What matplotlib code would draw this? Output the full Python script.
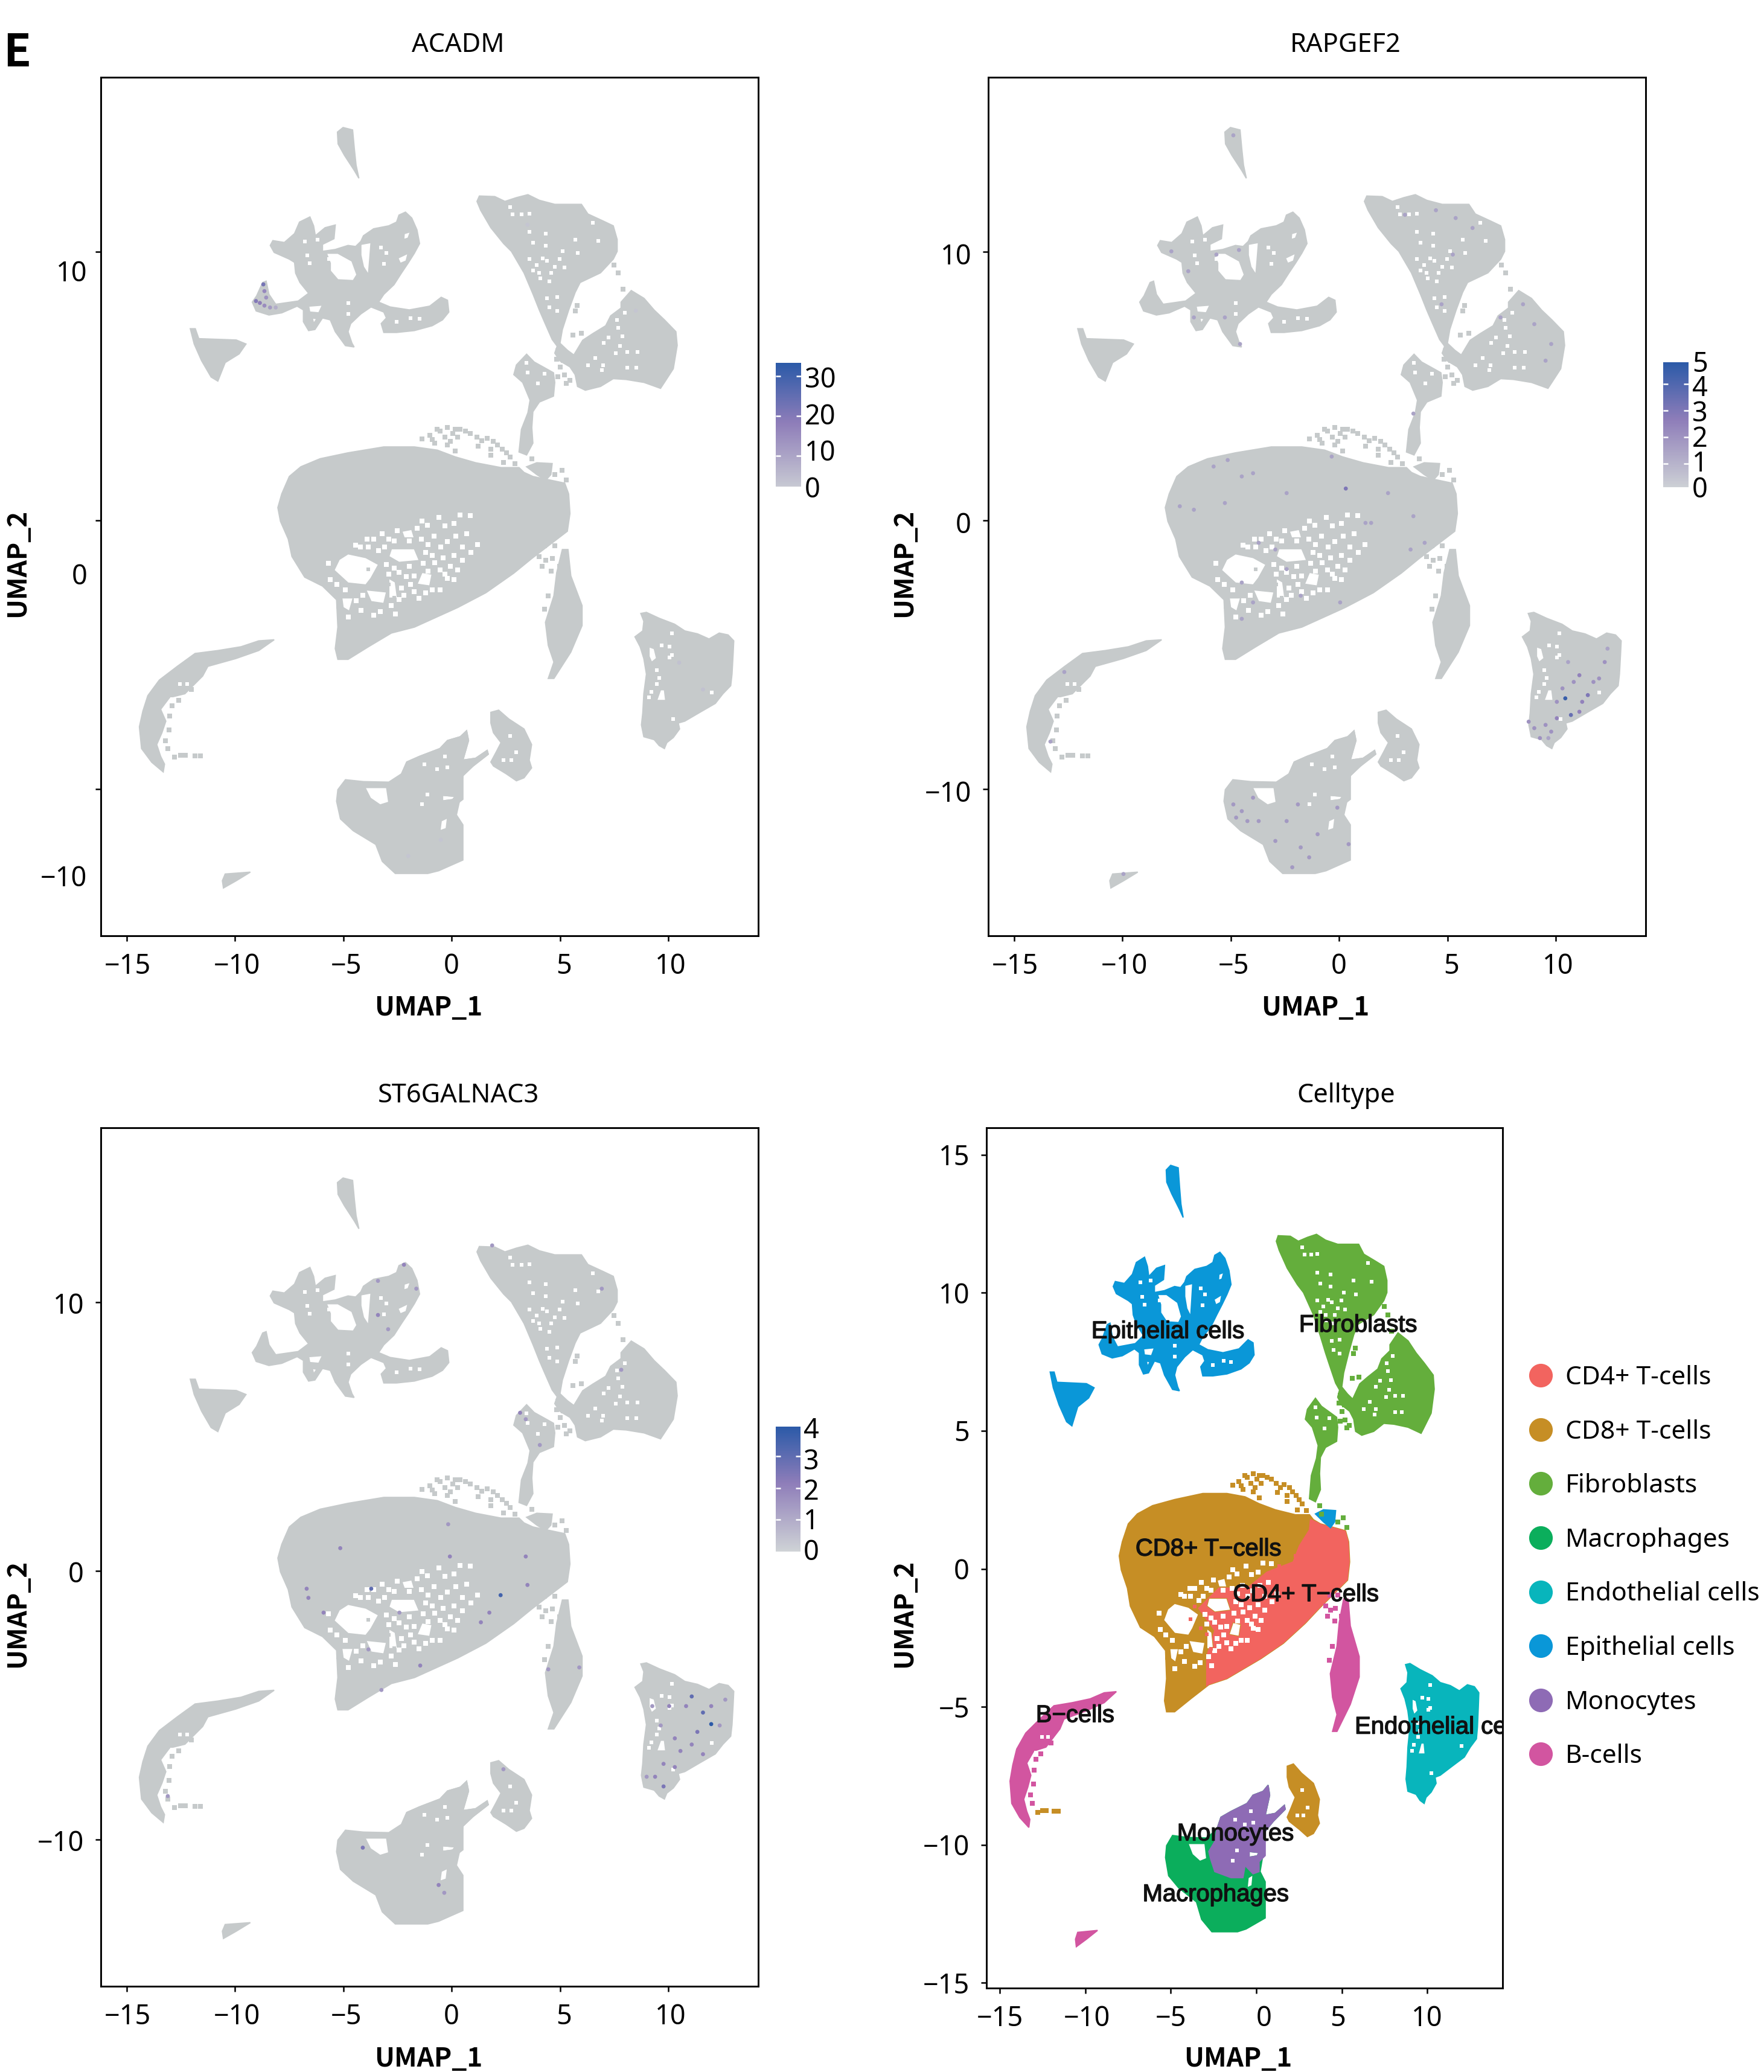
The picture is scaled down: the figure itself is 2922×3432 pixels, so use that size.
import matplotlib
matplotlib.use("Agg")
import matplotlib.pyplot as plt
import matplotlib.patheffects as pe
import numpy as np
from matplotlib.colors import LinearSegmentedColormap, Normalize
from matplotlib.cm import ScalarMappable
from matplotlib.lines import Line2D
from matplotlib.path import Path
from matplotlib.patches import PathPatch
from matplotlib.transforms import ScaledTranslation

FIG_W, FIG_H = 2922, 3432

CELLTYPES = ["CD4+ T-cells", "CD8+ T-cells", "Fibroblasts", "Macrophages",
             "Endothelial cells", "Epithelial cells", "Monocytes", "B-cells"]
CELL_COLORS = ["#F2645F", "#C68E25", "#64AE3C", "#0BAE5C",
               "#08B5BC", "#0A97D8", "#8E6BB5", "#D255A0"]
GREY = "#C6CACB"

# cluster outlines in UMAP coordinates
epi_drop = [(-5.27, 14.45), (-5.01, 14.62), (-4.57, 14.53), (-4.49, 13.83), (-4.41, 13.22),
            (-4.28, 12.73), (-4.49, 13.02), (-4.95, 13.59), (-5.24, 14.01)]
epi_main = [(-8.37, 10.23), (-8.25, 10.41), (-7.72, 10.34), (-7.25, 10.67), (-7.02, 11.10),
            (-6.54, 11.29), (-6.37, 10.96), (-6.29, 10.59), (-5.84, 10.89), (-5.37, 10.99),
            (-5.43, 10.48), (-5.96, 10.27), (-5.96, 10.01), (-5.37, 10.08), (-4.78, 10.23),
            (-4.43, 10.19), (-4.19, 10.38), (-4.07, 10.59), (-3.60, 10.85), (-2.90, 10.96),
            (-2.54, 11.10), (-2.43, 11.36), (-2.13, 11.47), (-1.84, 11.25), (-1.60, 10.81),
            (-1.48, 10.30), (-1.72, 9.94), (-2.01, 9.57), (-2.31, 9.21), (-2.66, 8.77),
            (-3.13, 8.41), (-3.37, 8.12), (-2.84, 7.94), (-1.95, 7.83), (-1.01, 7.97),
            (-0.48, 8.30), (-0.19, 8.19), (-0.13, 7.75), (-0.42, 7.46), (-0.90, 7.24),
            (-1.72, 7.06), (-2.54, 6.99), (-3.13, 6.99), (-3.25, 7.32), (-3.01, 7.53),
            (-3.13, 7.75), (-3.72, 7.94), (-4.19, 7.68), (-4.66, 7.32), (-4.78, 7.02),
            (-4.60, 6.59), (-4.50, 6.45), (-4.90, 6.50), (-5.37, 7.02), (-5.60, 7.46),
            (-5.96, 7.53), (-6.31, 7.10), (-6.60, 7.06), (-6.84, 7.39), (-6.84, 7.83),
            (-7.13, 7.97), (-7.84, 7.72), (-8.43, 7.64), (-9.02, 7.79), (-9.20, 8.12),
            (-9.00, 8.35), (-8.72, 8.85), (-8.56, 8.90), (-8.43, 8.41), (-8.12, 8.04),
            (-7.08, 8.16), (-6.60, 8.45), (-7.00, 8.85), (-7.20, 9.20), (-7.25, 9.60),
            (-7.49, 9.72), (-8.19, 9.97)]
epi_main_holes = [
    [(-5.78, 9.94), (-5.25, 9.94), (-4.60, 9.65), (-4.37, 9.14), (-4.54, 8.92),
     (-5.25, 8.95), (-5.60, 9.28), (-5.60, 9.57)],
    [(-4.19, 10.27), (-3.72, 10.34), (-3.78, 9.72), (-3.84, 9.14), (-4.07, 9.43), (-4.19, 9.87)],
    [(-6.60, 7.97), (-5.96, 8.01), (-6.13, 7.72), (-6.55, 7.75)],
    [(-6.43, 7.53), (-6.22, 7.50), (-6.37, 7.32)],
    [(-2.19, 10.67), (-1.90, 10.74), (-2.01, 10.50), (-2.21, 10.45)],
    [(-2.48, 9.76), (-2.01, 9.94), (-2.10, 9.65), (-2.37, 9.56)],
]
epi_small = [(-12.06, 7.13), (-11.83, 7.13), (-11.67, 6.76), (-9.94, 6.71), (-9.49, 6.56),
             (-9.81, 6.19), (-10.45, 5.87), (-10.79, 5.18), (-11.10, 5.33), (-11.54, 5.94),
             (-11.88, 6.56)]
epi_patch = [(3.93, 2.14), (4.64, 2.11), (4.58, 1.70), (4.34, 1.49), (3.93, 1.70), (3.46, 1.99)]

fib_main = [(1.17, 11.87), (1.28, 12.07), (1.99, 12.05), (2.46, 11.87), (2.99, 12.01),
            (3.52, 12.12), (4.05, 11.91), (4.76, 11.76), (5.99, 11.76), (6.29, 11.40),
            (6.99, 11.14), (7.46, 10.96), (7.64, 10.45), (7.64, 10.01), (7.46, 9.72),
            (6.87, 9.21), (5.93, 8.85), (5.70, 8.48), (5.40, 7.82), (5.11, 7.10),
            (5.00, 6.59), (5.34, 6.33), (5.64, 6.15), (6.05, 6.70), (6.52, 6.95),
            (7.11, 7.24), (7.34, 7.61), (7.82, 7.90), (7.82, 8.12), (8.29, 8.55),
            (8.88, 8.26), (9.35, 7.82), (9.82, 7.46), (10.35, 7.02), (10.41, 6.51),
            (10.23, 5.64), (9.82, 5.13), (9.64, 4.91), (8.88, 5.13), (8.05, 5.24),
            (7.46, 5.27), (6.87, 4.98), (6.17, 4.84), (5.81, 4.98), (5.70, 5.42),
            (5.46, 5.71), (5.00, 5.93), (4.76, 6.22), (4.87, 6.48), (4.64, 6.73),
            (4.28, 7.39), (4.05, 7.82), (3.76, 8.41), (3.34, 9.21), (2.76, 10.01),
            (2.40, 10.30), (1.81, 10.89), (1.34, 11.54)]
fib_small = [(2.99, 5.78), (3.46, 6.18), (3.81, 5.89), (4.28, 5.68), (4.70, 5.49), (4.76, 5.13),
             (4.70, 4.62), (4.05, 4.40), (3.75, 4.04), (3.70, 3.45), (3.75, 2.87), (3.46, 2.43),
             (3.11, 2.54), (3.22, 3.38), (3.52, 4.00), (3.62, 4.47), (3.28, 5.13), (2.87, 5.42)]

tcell_blob = [(-8.02, 0.47), (-7.84, 0.98), (-7.49, 1.63), (-6.96, 1.99), (-6.07, 2.29),
              (-4.78, 2.51), (-3.13, 2.73), (-1.72, 2.73), (-0.66, 2.61), (0.16, 2.36),
              (1.11, 2.14), (2.28, 1.96), (3.11, 1.96), (3.34, 1.78), (3.75, 1.63),
              (5.22, 1.38), (5.40, 0.98), (5.46, 0.25), (5.34, -0.41), (4.40, -0.99),
              (3.69, -1.43), (2.87, -1.97), (1.58, -2.70), (0.28, -3.25), (-1.72, -3.98),
              (-2.78, -4.20), (-3.84, -4.71), (-4.78, -5.18), (-5.25, -5.18), (-5.37, -4.78),
              (-5.25, -3.98), (-5.31, -2.96), (-5.96, -2.45), (-6.78, -2.12), (-7.37, -1.35),
              (-7.54, -0.70), (-7.90, -0.04)]
tcell_holes = [
    [(-5.43, -1.86), (-5.19, -1.46), (-4.78, -1.25), (-3.96, -1.39), (-3.37, -1.65),
     (-3.72, -2.16), (-3.96, -2.41), (-4.78, -2.34)],
    [(-5.07, -2.89), (-4.54, -2.89), (-4.72, -3.39), (-5.01, -3.25)],
    [(-3.96, -2.59), (-3.00, -2.67), (-3.13, -3.10), (-3.72, -3.03)],
    [(-2.78, -1.06), (-1.72, -1.06), (-1.49, -1.50), (-2.43, -1.57), (-2.90, -1.35)],
    [(-2.30, -0.41), (-1.84, -0.34), (-1.72, -0.66), (-2.19, -0.66)],
    [(-1.37, -1.94), (-0.90, -2.01), (-1.01, -2.45), (-1.60, -2.38)],
    [(-2.90, -2.16), (-2.60, -2.30), (-2.50, -2.90), (-2.90, -2.90)],
]
cd4_part = [(3.17, 1.78), (3.75, 1.63), (5.22, 1.38), (5.40, 0.98), (5.46, 0.25), (5.34, -0.41),
            (4.40, -0.99), (3.69, -1.43), (2.87, -1.97), (1.58, -2.70), (0.28, -3.25),
            (-1.72, -3.98), (-2.90, -4.38), (-2.90, -3.18), (-2.43, -2.23), (-3.37, -1.43),
            (-2.19, -0.70), (-0.54, -0.70), (0.63, -0.12), (2.16, 0.25), (2.52, 0.83), (3.11, 1.41)]

bcell_spike = [(5.11, -1.09), (5.37, -1.09), (5.50, -2.07), (6.02, -3.18), (6.02, -3.92),
               (5.50, -4.91), (4.72, -5.89), (4.46, -5.89), (4.72, -5.28), (4.46, -4.66),
               (4.33, -3.80), (4.72, -2.81), (4.85, -1.95)]
bcell_arc = [(-8.19, -4.45), (-8.90, -4.49), (-9.72, -4.71), (-10.78, -4.85), (-11.84, -4.96),
             (-12.66, -5.44), (-13.49, -5.95), (-14.02, -6.53), (-14.25, -7.11), (-14.41, -7.69),
             (-14.31, -8.50), (-13.84, -9.01), (-13.31, -9.37), (-13.25, -9.08), (-13.43, -8.79),
             (-13.61, -8.35), (-13.37, -7.91), (-13.19, -7.48), (-13.43, -7.04), (-13.02, -6.60),
             (-12.31, -6.46), (-11.49, -5.80), (-11.25, -5.44), (-9.96, -5.15), (-8.90, -4.85)]
bcell_tiny = [(-10.58, -13.42), (-10.45, -13.17), (-9.29, -13.10), (-9.94, -13.42), (-10.53, -13.69)]

endo_main = [(8.73, -3.47), (8.99, -3.43), (9.58, -3.65), (10.29, -3.87), (10.76, -4.12),
             (11.35, -4.23), (11.88, -4.42), (12.35, -4.20), (12.76, -4.27), (13.02, -4.49),
             (12.99, -5.00), (12.94, -5.73), (12.88, -6.16), (12.52, -6.46), (12.17, -6.82),
             (11.46, -7.15), (10.76, -7.48), (10.46, -7.55), (10.52, -7.77), (10.23, -8.09),
             (9.93, -8.28), (9.82, -8.50), (9.58, -8.39), (9.35, -8.17), (8.87, -8.06),
             (8.76, -7.62), (8.82, -7.18), (8.87, -6.46), (8.99, -5.73), (8.87, -5.15),
             (8.70, -4.71), (8.46, -4.34), (8.82, -4.12), (8.87, -3.76)]
endo_holes = [[(9.11, -4.71), (9.35, -4.78), (9.46, -5.14), (9.23, -5.29), (9.11, -5.07)],
              [(9.64, -6.31), (9.82, -6.31), (9.88, -6.71), (9.46, -6.71)]]

macro_main = [(-5.25, -10.03), (-4.90, -9.66), (-4.07, -9.73), (-2.90, -9.75), (-2.31, -9.44),
              (-2.07, -9.00), (-1.48, -8.79), (-0.54, -8.50), (-0.19, -8.20), (0.40, -8.06),
              (0.69, -7.84), (0.78, -8.20), (0.52, -8.93), (1.11, -8.86), (1.64, -8.57),
              (1.69, -8.71), (0.99, -9.15), (0.52, -9.51), (0.40, -10.32), (0.22, -10.97),
              (0.52, -11.34), (0.52, -12.14), (0.52, -12.65), (-0.60, -13.05), (-1.10, -13.15),
              (-2.60, -13.15), (-3.20, -12.70), (-3.50, -12.07), (-4.54, -11.56), (-5.13, -11.12),
              (-5.31, -10.46)]
macro_holes = [[(-4.00, -9.95), (-3.00, -9.95), (-2.90, -10.50), (-3.30, -10.60), (-3.75, -10.35)],
               [(-0.42, -10.24), (0.16, -10.28), (0.05, -10.40), (-0.42, -10.45)],
               [(-0.48, -11.19), (-0.19, -11.08), (-0.25, -11.48), (-0.54, -11.56)]]
mono_part = [(-2.31, -9.44), (-2.07, -9.00), (-1.48, -8.79), (-0.54, -8.50), (-0.19, -8.20),
             (0.40, -8.06), (0.69, -7.84), (0.78, -8.20), (0.52, -8.93), (1.11, -8.86),
             (1.64, -8.57), (1.69, -8.71), (0.99, -9.15), (0.52, -9.51), (0.52, -10.39),
             (0.16, -10.61), (0.16, -10.97), (-0.19, -11.05), (-0.66, -10.75), (-0.78, -11.19),
             (-1.48, -11.19), (-2.43, -10.97), (-2.66, -10.54), (-2.78, -10.24), (-2.43, -9.88)]
mono_holes = [[(-0.42, -10.24), (0.16, -10.28), (0.05, -10.40), (-0.42, -10.45)]]
cd8_lobe = [(1.81, -7.15), (2.17, -7.07), (2.64, -7.40), (3.34, -7.77), (3.69, -8.35),
            (3.58, -8.93), (3.69, -9.22), (3.34, -9.59), (2.99, -9.70), (2.52, -9.44),
            (1.93, -9.15), (1.81, -9.00), (2.05, -8.64), (2.28, -8.28), (1.93, -7.91), (1.81, -7.55)]

# loose cells around the clusters
cd8_fringe = [(-1.37, 3.02), (-1.01, 3.16), (-0.66, 3.38), (-0.19, 3.45), (0.40, 3.38), (0.87, 3.24),
              (1.16, 3.09), (1.22, 2.76), (1.64, 3.05), (1.93, 2.94), (2.34, 2.65), (2.69, 2.36),
              (2.93, 2.11), (1.81, 2.65), (1.81, 2.43), (2.40, 2.14), (-0.78, 2.87), (-0.31, 3.09),
              (0.05, 3.24), (-0.19, 2.80), (0.16, 2.58), (-0.54, 3.31), (0.16, 3.38), (0.63, 3.31),
              (2.11, 2.80), (2.52, 2.51), (0.28, 3.09), (-0.07, 2.94), (-0.90, 3.00), (1.40, 2.95),
              (-12.78, -8.82), (-12.50, -8.75), (-12.30, -8.75), (-11.85, -8.78), (-11.60, -8.78),
              (-5.10, -3.60), (-5.20, -3.20), (-4.30, -3.80), (-3.90, -3.60), (-3.40, -3.70)]
fib_loose = [(5.00, 5.70), (5.20, 5.40), (4.90, 5.35), (5.30, 5.10), (4.85, 6.00), (5.15, 5.95),
             (5.45, 5.20), (4.90, 6.30), (3.70, 2.29), (3.81, 1.97), (5.10, 1.85), (5.30, 1.49),
             (4.75, 1.70), (7.90, 8.60), (7.70, 9.20), (7.50, 9.50), (5.80, 8.00), (5.70, 7.80),
             (5.60, 6.90), (6.00, 6.95)]
bcell_loose = [(4.05, -1.35), (4.17, -1.72), (4.64, -1.43), (4.58, -1.90), (4.99, -1.72),
               (4.46, -2.81), (4.28, -3.32), (4.34, -1.50), (4.75, -0.95), (4.30, -0.95),
               (-12.90, -6.90), (-12.60, -6.70), (-13.00, -7.30), (-13.05, -7.80), (-13.20, -8.20),
               (-13.10, -8.50), (-12.30, -6.20), (-12.00, -6.30)]
cd4_loose = [(-3.84, -1.83), (-3.60, -1.36), (-3.00, -1.43), (-3.25, -2.16), (-2.90, -2.38),
             (-2.66, -2.89), (2.28, 0.47), (2.75, 0.69), (3.11, 1.12), (3.46, 1.27),
             (2.05, 0.10), (1.34, 0.10), (0.87, -0.19)]

# white gaps inside the clusters
gaps_tcell = [(-1.37, -0.04), (-1.13, -0.19), (0.11, -0.12), (0.87, 0.18), (-2.66, -0.77), (-1.96, -0.77),
              (-3.84, -0.99), (-4.43, -0.92), (-3.37, -1.14), (-3.01, -1.65), (-2.66, -1.79), (-1.96, -1.72),
              (-1.72, -2.08), (-2.90, -2.01), (-2.43, -1.94), (-0.78, -1.57), (-0.54, -1.86), (-0.07, -1.72),
              (0.28, -1.86), (-2.31, -2.52), (-1.72, -2.67), (-0.90, -2.59), (-0.54, -2.59), (-2.43, -2.96),
              (-2.78, -3.18), (-3.60, -3.54), (-4.19, -3.36), (-4.78, -3.61), (-0.19, -2.16),
              (-3.60, -0.70), (-3.20, -0.50), (-2.90, -0.70), (-2.50, -0.40), (-3.10, -1.00), (-1.40, -0.70),
              (-1.10, -0.90), (-0.80, -0.60), (-0.50, -1.00), (-0.20, -0.80), (0.20, -0.60), (0.50, -1.00),
              (0.70, -0.50), (-1.20, -1.20), (-0.90, -1.30), (-0.40, -1.40), (0.10, -1.30), (0.50, -1.50),
              (0.90, -1.20), (1.20, -0.90), (-1.30, -1.60), (-1.10, -1.90), (-0.30, -2.00), (0.10, -2.20),
              (-2.10, -2.10), (-1.90, -2.40), (-2.20, -2.80), (-1.50, -2.90), (-1.20, -2.70), (-3.30, -3.40),
              (-2.60, -3.50), (-4.40, -3.00), (-4.10, -2.80), (-4.90, -2.60), (-4.20, -1.00), (-3.90, -0.70),
              (-1.60, -0.30), (-0.60, 0.10), (-0.30, -0.20), (0.40, 0.20), (-5.70, -1.60), (-5.60, -2.20),
              (-5.30, -2.40)]
gaps_fib = [(2.70, 11.65), (2.81, 11.38), (3.23, 11.38), (3.58, 11.40), (3.58, 10.74), (3.76, 10.34),
            (4.34, 10.67), (5.70, 10.45), (6.76, 10.41), (6.52, 11.07), (4.34, 10.23), (5.11, 10.01),
            (5.81, 9.94), (3.58, 9.72), (3.93, 9.50), (4.40, 9.65), (4.76, 9.43), (4.99, 9.72),
            (4.05, 9.21), (4.40, 8.26), (4.87, 8.30), (4.52, 7.93), (4.87, 7.79), (7.99, 7.72),
            (7.64, 7.46), (7.70, 7.17), (7.23, 6.81), (7.87, 6.84), (7.01, 6.59), (7.76, 6.48),
            (8.11, 6.26), (8.58, 6.26), (7.58, 6.22), (6.64, 6.04), (6.99, 5.78), (6.93, 5.60),
            (8.11, 5.68), (8.52, 5.68), (6.29, 5.78), (3.46, 5.86), (3.52, 5.49), (4.28, 5.46), (3.99, 5.09),
            (3.75, 9.30), (4.20, 9.75), (4.60, 9.20), (5.20, 9.40), (4.10, 9.00), (4.50, 8.90)]
gaps_epi = [(-6.78, 10.38), (-6.66, 9.86), (-6.54, 9.57), (-5.66, 9.72), (-3.25, 10.16), (-3.01, 9.94),
            (-3.13, 9.54), (-1.90, 7.53), (-1.48, 7.50), (-2.54, 7.39), (-4.78, 8.08), (-4.78, 7.68), (-6.19, 10.45)]
gaps_endo = [(10.05, -4.71), (9.70, -4.67), (10.17, -5.03), (10.05, -5.11), (10.23, -7.40), (9.46, -5.58),
             (9.58, -5.87), (9.46, -6.09), (9.11, -6.60), (9.23, -6.38), (10.17, -4.20), (12.00, -6.42)]
gaps_other = [(-1.25, -9.08), (-0.66, -9.26), (-0.19, -9.19), (-1.13, -10.21), (-1.37, -10.57), (-0.31, -8.79),
              (2.75, -8.93), (2.99, -8.64), (2.70, -8.02), (2.40, -8.93), (-12.20, -6.09), (-12.55, -6.09), (-12.90, -6.67)]

# expressing cells: x, y, level
acadm_x = [-9.03, -8.85, -8.64, -8.38, -8.69, -8.64, -8.56, -8.12, 11.6, 10.5, -2.0, -0.5, 3.5, 8.5]
acadm_y = [8.16, 8.09, 7.99, 7.92, 8.78, 8.53, 8.29, 7.92, -6.3, -5.3, -12.5, -11.9, 11.0, 7.8]
acadm_v = [20, 18, 15, 12, 22, 16, 14, 8, 4, 4, 3, 3, 3, 3]

rapgef2_x = [10.44, 10.70, 11.09, 11.48, 10.05, 9.53, 9.01, 9.27, 9.79, 10.31, 11.22, 11.74, 12.26, 12.39,
             10.83, 8.75, 11.09, 12.00, 10.05, 9.66, 10.57, 5.25, 5.38, 4.47, 6.16, 3.04, 9.01, 8.49, 9.79,
             9.53, 7.45, 4.73, 0.31, -4.49, -5.14, -5.79, -3.97, -6.70, -7.35, -5.27, -2.42, -0.34, 1.22,
             1.48, 3.43, 3.95, 3.30, -2.94, -2.42, -1.77, 0.05, -4.49, -3.97, -4.49, -3.71, 2.26, -4.88,
             -4.49, -3.97, -4.75, -4.23, -3.71, -1.90, -2.42, -1.38, -2.16, -0.99, 0.44, -0.08, -2.94, -1.77,
             -4.88, -7.74, -5.66, -4.62, -6.96, -6.70, -5.27, -4.57, -9.95, -13.32, -12.68, 3.43]
rapgef2_y = [-6.63, -7.25, -5.77, -6.51, -7.37, -7.62, -7.74, -8.11, -7.87, -6.26, -6.76, -6.02, -5.28, -4.78,
             -6.02, -7.50, -7.13, -5.89, -6.76, -8.11, -5.28, 9.89, 11.25, 11.54, 10.88, 11.37, 7.30, 8.04, 6.56,
             5.94, 7.55, 8.04, 1.18, 1.63, 2.24, 2.00, 1.75, 0.39, 0.52, 0.64, 1.01, 2.37, -0.10,
             -0.10, 0.15, -0.84, -1.09, -1.09, -1.82, -2.81, -3.06, -2.32, -3.06, -3.67, -0.84, 1.01, -10.58,
             -10.83, -10.33, -11.07, -11.20, -11.20, -10.58, -11.20, -12.55, -12.92, -11.69, -12.06, -10.70, -11.94, -12.18,
             14.33, 10.01, 9.89, 10.06, 9.27, 7.55, 7.55, 6.56, -13.17, -8.24, -5.65, 3.97]
rapgef2_v = [4.5, 3.5, 2.5, 3, 2.5, 2, 2, 2, 2, 2, 2.5, 2, 2, 1.5,
             2, 2, 2.5, 2, 2, 1.5, 1.5, 1.5, 1.5, 1.5, 1.5, 1.5, 1.5, 1.5, 1.5,
             1.5, 1.5, 1.5, 3, 1.5, 1.5, 1.5, 1.5, 1.5, 1.5, 1.5, 1.5, 1.5, 1.5,
             1.5, 1.5, 1.5, 1.5, 1.5, 1.5, 1.5, 1.5, 1.5, 1.5, 1.5, 1.5, 1.5, 1.8,
             1.8, 1.8, 1.8, 1.8, 1.8, 1.8, 1.8, 1.8, 1.8, 1.8, 1.8, 1.8, 1.8, 1.8,
             1.5, 1.5, 1.5, 1.5, 1.5, 1.5, 1.5, 1.5, 1.5, 1.5, 1.5, 1.5]

st6_x = [11.98, 11.08, 11.60, 11.34, 10.82, 10.04, 9.26, 10.30, 9.78, 9.39, 9.78, 10.56, 11.60, 12.37, 12.63,
         9.00, 11.08, 10.30, 11.98, 9.65, 2.26, 1.74, 1.35, 3.42, 3.50, -0.08, -0.16, -5.14, -6.69, -6.61,
         -3.71, -5.91, -2.41, -3.84, -1.45, -3.24, -4.10, -0.60, -0.34, 3.16, 3.42, 4.07, -3.40, -3.40, -2.93,
         -1.63, -2.20, 1.87, 6.93, 7.83, 2.39, 4.46, 5.89, -13.10]
st6_y = [-5.71, -4.68, -5.28, -6.00, -5.04, -5.04, -5.04, -6.24, -7.19, -7.67, -8.03, -6.71, -6.83, -5.76, -4.80,
         -7.67, -6.47, -7.31, -5.04, -5.76, -0.91, -1.56, -1.92, 0.53, -0.53, 0.53, 1.73, 0.84, -0.67, -1.01,
         -0.67, -1.56, -1.56, -2.93, -3.53, -4.44, -10.31, -11.70, -11.99, 5.88, 5.64, 4.68, 10.79, 9.52, 8.99,
         10.50, 11.39, 12.11, 10.50, 7.48, -7.39, -3.67, -3.60, -8.39]
st6_v = [4, 3, 3, 2.5, 2, 2, 1.5, 2, 2, 2, 2.5, 2, 2, 1.5, 1.5,
         1.5, 2, 2, 2, 1.5, 3.5, 2, 2, 2, 2, 2, 1.5, 2, 2, 2,
         3, 2, 1.5, 1.5, 2, 1.5, 2.5, 2, 1.5, 2, 1.5, 1.5, 1.5, 2, 1.5,
         1.5, 2, 1.5, 1.5, 1.5, 1.5, 1.5, 1.5, 1.5]

X_TICKS = [-15, -10, -5, 0, 5, 10]
GENE_XLIM = (-16.19, 14.15)
GENE_YLIM = (-15.47, 16.49)
CELL_XLIM = (-15.79, 14.41)
CELL_YLIM = (-15.19, 15.98)
# the reference x labels are not quite under their ticks (pixels)
GENE_XLABEL_SHIFT = [2, 3, 5, 0, 6, 4]
CELL_XLABEL_SHIFT = [0, 3, 0, 13, -7, 0]

expr_cmap = LinearSegmentedColormap.from_list(
    "expr", [(0, "#CFD3D6"), (0.55, "#8E7DB9"), (1, "#2B5AA8")])

plt.rcParams["font.family"] = ["Noto Sans", "DejaVu Sans"]
plt.rcParams["axes.linewidth"] = 0.7

BOLD_FONT = ["Noto Sans CJK KR", "DejaVu Sans"]


def px_box(left, top, right, bottom):
    return [left / FIG_W, 1 - bottom / FIG_H, (right - left) / FIG_W, (bottom - top) / FIG_H]


def fig_text(fig, x, y, s, **kwargs):
    fig.text(x / FIG_W, 1 - y / FIG_H, s, ha="center", va="center", **kwargs)


def oriented(points, clockwise):
    pts = np.array(points)
    area = 0.5 * np.sum(pts[:, 0] * np.roll(pts[:, 1], -1) - np.roll(pts[:, 0], -1) * pts[:, 1])
    if (area < 0) != clockwise:
        pts = pts[::-1]
    return pts


def make_path(outline, holes=()):
    verts, codes = [], []
    rings = [oriented(outline, True)] + [oriented(h, False) for h in holes]
    for ring in rings:
        verts.extend(ring.tolist() + [ring[0].tolist()])
        codes.extend([Path.MOVETO] + [Path.LINETO] * (len(ring) - 1) + [Path.CLOSEPOLY])
    return Path(verts, codes)


def add_shape(ax, outline, holes, color, clip_to=None, zorder=2):
    patch = PathPatch(make_path(outline, holes), facecolor=color, edgecolor=color,
                      linewidth=0.5, zorder=zorder)
    ax.add_patch(patch)
    if clip_to is not None:
        patch.set_clip_path(clip_to, transform=ax.transData)
    return patch


def dots(ax, points, color, size=1.6, zorder=3):
    pts = np.array(points)
    ax.scatter(pts[:, 0], pts[:, 1], s=size, c=color, marker="s", linewidths=0, zorder=zorder)


def add_gaps(ax):
    for gaps, size in [(gaps_tcell, 3.0), (gaps_fib, 2.6), (gaps_epi, 2.2), (gaps_endo, 2.6), (gaps_other, 2.2)]:
        dots(ax, gaps, "white", size=size, zorder=4)


def draw_clusters(ax, colors):
    c = dict(zip(CELLTYPES, colors))
    add_shape(ax, epi_drop, [], c["Epithelial cells"])
    add_shape(ax, epi_main, epi_main_holes, c["Epithelial cells"])
    add_shape(ax, epi_small, [], c["Epithelial cells"])
    add_shape(ax, fib_main, [], c["Fibroblasts"])
    add_shape(ax, fib_small, [], c["Fibroblasts"])
    add_shape(ax, tcell_blob, tcell_holes, c["CD8+ T-cells"])
    add_shape(ax, cd4_part, [], c["CD4+ T-cells"], clip_to=make_path(tcell_blob, tcell_holes))
    add_shape(ax, epi_patch, [], c["Epithelial cells"])
    add_shape(ax, bcell_spike, [], c["B-cells"])
    add_shape(ax, bcell_arc, [], c["B-cells"])
    add_shape(ax, bcell_tiny, [], c["B-cells"])
    add_shape(ax, endo_main, endo_holes, c["Endothelial cells"])
    add_shape(ax, macro_main, macro_holes, c["Macrophages"])
    add_shape(ax, mono_part, mono_holes, c["Monocytes"])
    add_shape(ax, cd8_lobe, [], c["CD8+ T-cells"])
    dots(ax, cd8_fringe, c["CD8+ T-cells"], size=3.0)
    dots(ax, fib_loose, c["Fibroblasts"], size=3.0)
    dots(ax, bcell_loose, c["B-cells"], size=3.0)
    add_gaps(ax)
    dots(ax, cd4_loose, c["CD4+ T-cells"], size=2.6, zorder=5)


def shift_label(fig, label, dx, dy):
    label.set_transform(label.get_transform() + ScaledTranslation(dx / 300, -dy / 300, fig.dpi_scale_trans))


def style_axes(ax, xlim, ylim, yticks, x_shift, y_shift, ylabels=True):
    ax.set_xlim(*xlim)
    ax.set_ylim(*ylim)
    ax.set_xticks(X_TICKS)
    ax.set_xticklabels(["\u2212" + str(-t) if t < 0 else str(t) for t in X_TICKS])
    ax.set_yticks(yticks)
    if ylabels:
        ax.set_yticklabels(["\u2212" + str(-t) if t < 0 else str(t) for t in yticks])
    else:
        ax.set_yticklabels([])
    ax.tick_params(length=2.2, width=0.6, labelsize=10.8, pad=4.5)
    for label, dx in zip(ax.get_xticklabels(), x_shift):
        shift_label(ax.figure, label, dx, 0)
    for label in ax.get_yticklabels():
        shift_label(ax.figure, label, 0, y_shift)


def colorbar(fig, box, vmax, lims, ticks, labels, label_pos, label_x):
    cax = fig.add_axes(px_box(*box))
    sm = ScalarMappable(norm=Normalize(0, vmax), cmap=expr_cmap)
    cb = fig.colorbar(sm, cax=cax)
    cb.outline.set_visible(False)
    cb.set_ticks(ticks)
    cax.set_ylim(*lims)
    cax.tick_params(axis="y", which="both", direction="in", length=2.0, width=0.6,
                    colors="white", left=True, right=True, labelright=False, labelleft=False)
    offset = ScaledTranslation(0, -4 / 300, fig.dpi_scale_trans)
    for text, value in zip(labels, label_pos):
        cax.text(label_x, value, text, transform=cax.get_yaxis_transform() + offset,
                 ha="left", va="center", fontsize=10.8, color="black", clip_on=False)


def gene_panel(fig, box, title, title_xy, ylabel_xy, xlabel_xy, ex, ey, ev, vmax, y_shift=4, ylabels=True):
    ax = fig.add_axes(px_box(*box))
    draw_clusters(ax, [GREY] * len(CELLTYPES))
    order = np.argsort(ev)
    ax.scatter(np.array(ex)[order], np.array(ey)[order], c=np.array(ev)[order], cmap=expr_cmap,
               norm=Normalize(0, vmax), s=2.6, marker="o", linewidths=0, zorder=6)
    style_axes(ax, GENE_XLIM, GENE_YLIM, [-10, 0, 10], GENE_XLABEL_SHIFT, y_shift, ylabels)
    fig_text(fig, title_xy[0], title_xy[1] + 4, title, fontsize=10.4)
    fig_text(fig, *ylabel_xy, "UMAP_2", fontsize=10.6, fontweight="bold", rotation=90, family=BOLD_FONT)
    fig_text(fig, *xlabel_xy, "UMAP_1", fontsize=10.6, fontweight="bold", family=BOLD_FONT)
    return ax


fig = plt.figure(figsize=(FIG_W / 300, FIG_H / 300), dpi=300, facecolor="white")

fig_text(fig, 28, 88, "E", fontsize=18, fontweight="bold", family=BOLD_FONT)

ax1 = gene_panel(fig, (167, 128, 1256, 1550), "ACADM", (759, 71), (28, 932), (710, 1669),
                 acadm_x, acadm_y, acadm_v, 33.3, ylabels=False)
# the y labels of this panel sit lower than their tick marks in the reference
for text, value in zip(["10", "0", "\u221210"], [9.17, -2.12, -13.35]):
    ax1.text(-0.021, value, text, transform=ax1.get_yaxis_transform(), ha="right", va="center",
             fontsize=10.8, clip_on=False)
colorbar(fig, (1285, 601, 1327, 806), 33.3, (2.3, 33.3), [10, 20, 30], ["30", "20", "10", "0"],
         [29.5, 20.3, 11.2, 2.0], 1.14)

gene_panel(fig, (1637, 128, 2726, 1550), "RAPGEF2", (2229, 71), (1497, 932), (2179, 1669),
           rapgef2_x, rapgef2_y, rapgef2_v, 4.82)
colorbar(fig, (2755, 600, 2797, 807), 4.82, (0.1, 4.82), [1, 2, 3, 4], ["5", "4", "3", "2", "1", "0"],
         [4.82, 3.9, 2.95, 2.0, 1.05, 0.08], 1.14)

gene_panel(fig, (167, 1868, 1256, 3290), "ST6GALNAC3", (759, 1811), (28, 2672), (710, 3410),
           st6_x, st6_y, st6_v, 3.94, y_shift=2)
colorbar(fig, (1285, 2363, 1326, 2570), 3.94, (0, 3.94), [1, 2, 3], ["4", "3", "2", "1", "0"],
         [3.88, 2.89, 1.95, 1.0, 0.04], 1.12)

ax4 = fig.add_axes(px_box(1634, 1868, 2489, 3293))
draw_clusters(ax4, CELL_COLORS)
style_axes(ax4, CELL_XLIM, CELL_YLIM, [-15, -10, -5, 0, 5, 10, 15], CELL_XLABEL_SHIFT, 0)
fig_text(fig, 2230, 1815, "Celltype", fontsize=10.4)
fig_text(fig, 1497, 2672, "UMAP_2", fontsize=10.6, fontweight="bold", rotation=90, family=BOLD_FONT)
fig_text(fig, 2051, 3410, "UMAP_1", fontsize=10.6, fontweight="bold", family=BOLD_FONT)

cluster_labels = ["Epithelial cells", "Fibroblasts", "CD8+ T\u2212cells", "CD4+ T\u2212cells", "B\u2212cells",
                  "Monocytes", "Macrophages"]
cluster_label_x = [-5.17, 5.96, -2.80, 2.90, -10.6, -1.22, -2.37]
cluster_label_y = [8.60, 8.83, 0.72, -0.93, -5.31, -9.60, -11.80]
halo = [pe.withStroke(linewidth=0.35, foreground="#111111")]
for text, x, y in zip(cluster_labels, cluster_label_x, cluster_label_y):
    ax4.text(x, y, text, family=["Liberation Sans"], fontsize=9.6, ha="center", va="center",
             color="#111111", zorder=8, path_effects=halo)
ax4.text(5.76, -5.73, "Endothelial cells", family=["Liberation Sans"], fontsize=9.6, ha="left", va="center",
         color="#111111", zorder=8, clip_on=True, path_effects=halo)

handles = [Line2D([], [], linestyle="none", marker="o", markersize=9.4, markerfacecolor=col,
                  markeredgewidth=0) for col in CELL_COLORS]
fig.legend(handles, CELLTYPES, loc="upper left", bbox_to_anchor=(2520 / FIG_W, 1 - 2261 / FIG_H),
           frameon=False, fontsize=10.2, borderpad=0, borderaxespad=0, labelspacing=1.12,
           handletextpad=0.22, handlelength=1.5)

fig.savefig("out.png", dpi=300)
